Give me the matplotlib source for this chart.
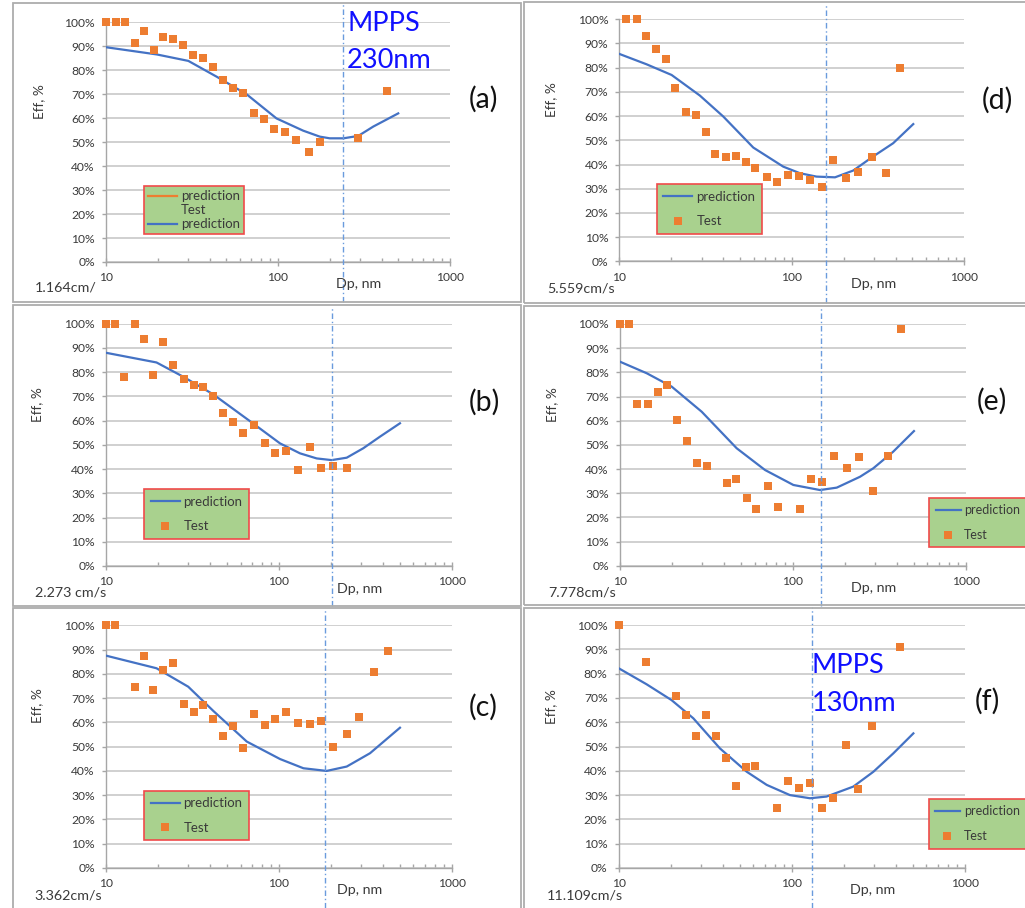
import matplotlib
matplotlib.use('Agg')
import matplotlib.pyplot as plt
from matplotlib.lines import Line2D
from matplotlib.patches import Rectangle
from matplotlib.ticker import FixedLocator, FuncFormatter, LogLocator, NullFormatter
from matplotlib.transforms import blended_transform_factory

plt.rcParams['font.family'] = ['Lato', 'DejaVu Sans']

W, H = 1025, 908

# ---------------- data ----------------
a_test_dp = [10, 11.4, 12.9, 14.7, 16.7, 19.1, 21.4, 24.6, 28.0, 32.2, 36.8, 42.1, 47.9, 55.0, 62.8,
             72.2, 82.9, 95.2, 109.9, 127.9, 151.4, 175.4, 293, 428.5]
a_test_eff = [100, 100, 100, 91.5, 96.4, 88.5, 94.0, 92.9, 90.5, 86.5, 85.1, 81.5, 76.1, 72.7, 70.7,
              62.3, 59.5, 55.4, 54.4, 51.0, 46.0, 50.2, 51.7, 71.5]
a_pred_dp = [10, 19.7, 30.1, 44, 65.6, 98, 140, 175, 200, 240, 293, 358, 500]
a_pred_eff = [89.6, 86.6, 83.9, 77.3, 70.0, 59.9, 54.8, 52.3, 51.6, 51.6, 52.6, 56.5, 62.0]

b_test_dp = [10, 11.3, 12.7, 14.7, 16.6, 18.8, 21.4, 24.5, 28.3, 32.2, 36.4, 41.8, 47.6, 54.6, 62.1,
             72.2, 82.8, 95.5, 109.6, 128.6, 151.4, 174.6, 205.8, 246.6]
b_test_eff = [100, 100, 78.0, 100, 93.5, 78.8, 92.4, 82.8, 77.3, 74.8, 74.0, 70.3, 63.3, 59.6, 55.0,
              58.2, 50.9, 46.8, 47.3, 39.8, 49.2, 40.6, 41.4, 40.3]
b_pred_dp = [10, 19.6, 28.0, 41.8, 68, 101.6, 132.5, 165.5, 202, 247, 308, 385, 502]
b_pred_eff = [88.0, 84.0, 78.1, 70.8, 59.8, 50.6, 46.5, 44.4, 43.7, 44.7, 48.6, 53.4, 58.9]

c_test_dp = [10, 11.3, 14.7, 16.6, 18.8, 21.4, 24.5, 28.3, 32.1, 36.4, 41.8, 47.6, 54.6, 62.1, 72.2,
             82.8, 95.5, 109.6, 128.6, 151.4, 174.6, 205.8, 246.6, 292.2, 355.6, 426.9]
c_test_eff = [100, 100, 74.5, 87.2, 73.2, 81.6, 84.3, 67.4, 64.4, 67.2, 61.3, 54.4, 58.7, 49.5, 63.3,
              58.9, 61.3, 64.4, 59.6, 59.2, 60.6, 49.7, 55.2, 62.1, 80.6, 89.3]
c_pred_dp = [10, 19.6, 29.9, 41.8, 65.2, 101.6, 138.7, 189, 247, 337, 502]
c_pred_eff = [87.5, 82.3, 74.7, 64.7, 52.1, 44.9, 41.1, 40.0, 41.8, 47.3, 57.8]

d_test_dp = [11.0, 12.6, 14.3, 16.4, 18.6, 21.1, 24.3, 27.7, 31.8, 36.1, 41.5, 47.2, 54.2, 61.4, 71.4,
             82.0, 94.6, 109.6, 127.5, 148.9, 174, 205, 243, 291.6, 350, 423.6]
d_test_eff = [100, 100, 93.2, 87.7, 83.5, 71.5, 61.6, 60.5, 53.3, 44.4, 43.3, 43.7, 41.0, 38.6, 35.0,
              32.8, 35.7, 35.4, 33.6, 30.7, 41.9, 34.4, 36.9, 43.1, 36.5, 80.0]
d_pred_dp = [10, 14.4, 20.1, 29.3, 40.1, 59.8, 89.3, 111.5, 139, 178, 227, 296, 387, 506]
d_pred_eff = [85.7, 81.4, 77.0, 68.5, 59.8, 47.0, 39.1, 36.4, 35.0, 34.7, 37.5, 43.3, 48.8, 56.7]

e_test_dp = [10, 11.2, 12.6, 14.5, 16.6, 18.8, 21.3, 24.5, 27.8, 32.0, 41.6, 47.1, 54.3, 61.5, 71.5,
             82.4, 109.6, 127.4, 148.2, 173, 204.8, 242.5, 292.4, 354, 424.9]
e_test_eff = [100, 100, 66.9, 66.9, 71.7, 74.8, 60.3, 51.7, 42.6, 41.4, 34.3, 36.0, 28.1, 23.6, 33.1,
              24.4, 23.3, 36.0, 34.8, 45.5, 40.6, 45.1, 31.0, 45.5, 97.9]
e_pred_dp = [10, 14.3, 19.9, 29.7, 47.3, 69.0, 100.7, 143.6, 179.5, 244.7, 292, 381, 502]
e_pred_eff = [84.4, 79.6, 74.1, 63.7, 48.6, 39.6, 33.4, 31.3, 32.3, 36.8, 40.3, 47.2, 55.7]

f_test_dp = [10, 14.4, 21.3, 24.5, 27.9, 32.0, 36.4, 41.7, 47.4, 54.4, 61.7, 82.6, 95.2, 109.7, 127.6,
             149, 172.5, 205, 242.8, 291, 422.6]
f_test_eff = [100, 84.9, 70.9, 63.0, 54.3, 63.0, 54.3, 45.1, 33.7, 41.6, 41.8, 24.8, 35.8, 33.1, 34.8,
              24.8, 28.7, 50.6, 32.5, 58.4, 91.1]
f_pred_dp = [10, 14.5, 20.2, 27.0, 38.5, 55.0, 71.7, 97.7, 127.6, 159, 227, 296.5, 387, 505]
f_pred_eff = [82.2, 75.6, 69.1, 61.6, 49.2, 39.6, 34.2, 30.0, 28.7, 29.4, 33.5, 39.6, 47.2, 55.4]

mpps_dp = {'a': 240, 'b': 203, 'c': 185, 'd': 157, 'e': 145, 'f': 131.5}
velocity_labels = {'a': '1.164cm/', 'b': '2.273 cm/s', 'c': '3.362cm/s',
                   'd': '5.559cm/s', 'e': '7.778cm/s', 'f': '11.109cm/s'}
panel_letters = ['a', 'b', 'c', 'd', 'e', 'f']
y_ticks = [0, 10, 20, 30, 40, 50, 60, 70, 80, 90, 100]
x_ticks = [10, 100, 1000]

series = {
    'a': (a_test_dp, a_test_eff, a_pred_dp, a_pred_eff),
    'b': (b_test_dp, b_test_eff, b_pred_dp, b_pred_eff),
    'c': (c_test_dp, c_test_eff, c_pred_dp, c_pred_eff),
    'd': (d_test_dp, d_test_eff, d_pred_dp, d_pred_eff),
    'e': (e_test_dp, e_test_eff, e_pred_dp, e_pred_eff),
    'f': (f_test_dp, f_test_eff, f_pred_dp, f_pred_eff),
}

# ---------------- layout (pixels) ----------------
axes_px = {
    'a': (106, 22.3, 450, 262),
    'b': (106, 323.7, 451.7, 566),
    'c': (106, 625.3, 451.7, 868),
    'd': (619.3, 19.3, 964.3, 261.3),
    'e': (620, 324, 965.7, 565.7),
    'f': (618.7, 625, 964.7, 868),
}
frames_px = {
    'a': (12.5, 3.5, 521, 302), 'b': (12.5, 305, 521, 606), 'c': (12.5, 607.5, 521, 912),
    'd': (523.5, 1.5, 1030, 303), 'e': (524, 306, 1030, 605), 'f': (524, 608, 1030, 912),
}
vline_px = {'a': (4, 302), 'b': (308, 606), 'c': (609, 908),
            'd': (3, 303), 'e': (307, 606), 'f': (607, 908)}
ylabel_px = {'a': (39, 102), 'b': (37.3, 405), 'c': (37.3, 706),
             'd': (550.7, 100), 'e': (551.7, 405), 'f': (550.7, 706.7)}
vel_px = {'a': (66, 287), 'b': (71, 592.3), 'c': (68.3, 895),
          'd': (581, 288.3), 'e': (582.5, 592.3), 'f': (585, 895)}
dp_px = {'a': (359, 284), 'b': (360, 589), 'c': (360, 890.3),
         'd': (873.3, 284), 'e': (874, 588.3), 'f': (873, 890.3)}
letter_px = {'a': (483, 99.5), 'b': (484, 402.5), 'c': (483, 707.5),
             'd': (997, 100), 'e': (991.5, 401), 'f': (987, 701)}
legend_px = {'a': (144, 186), 'b': (144, 489), 'c': (144, 790.7),
             'd': (656.7, 184), 'e': (929.3, 497.7), 'f': (928.7, 799)}

ORANGE = '#ED7D31'
BLUE = '#4472C4'
GRID = '#C4C4C4'
AXIS = '#A6A6A6'
TXT = '#3A3A3A'


def fx(px):
    return px / W


def fy(py):
    return 1 - py / H


fig = plt.figure(figsize=(W / 100, H / 100), dpi=100)
fig.patch.set_facecolor('white')

for p in panel_letters:
    l, t, r, b = frames_px[p]
    fig.patches.append(Rectangle((fx(l), fy(b)), fx(r) - fx(l), fy(t) - fy(b),
                                 transform=fig.transFigure, fill=False,
                                 edgecolor='#ADADAD', linewidth=1.3, zorder=0))

for p in panel_letters:
    l, t, r, b = axes_px[p]
    ax = fig.add_axes([fx(l), fy(b), fx(r) - fx(l), fy(t) - fy(b)])
    test_dp, test_eff, pred_dp, pred_eff = series[p]

    ax.set_xscale('log')
    ax.set_xlim(10, 1000)
    ax.set_ylim(0, 100)
    ax.yaxis.set_major_locator(FixedLocator(y_ticks))
    ax.yaxis.set_major_formatter(FuncFormatter(lambda v, pos: f'{v:.0f}%'))
    ax.xaxis.set_major_locator(FixedLocator(x_ticks))
    ax.xaxis.set_major_formatter(FuncFormatter(lambda v, pos: f'{v:.0f}'))
    ax.xaxis.set_minor_locator(LogLocator(base=10, subs=[2, 3, 4, 5, 6, 7, 8, 9]))
    ax.xaxis.set_minor_formatter(NullFormatter())

    ax.grid(axis='y', color=GRID, linewidth=1.1)
    ax.set_axisbelow(True)
    for s in ['top', 'right']:
        ax.spines[s].set_visible(False)
    for s in ['left', 'bottom']:
        ax.spines[s].set_color(AXIS)
        ax.spines[s].set_linewidth(1.0)
    ax.tick_params(axis='y', which='major', direction='out', length=3, width=1.0,
                   color=AXIS, labelsize=8.7, labelcolor=TXT, pad=5)
    ax.tick_params(axis='x', which='major', direction='inout', length=6, width=1.0,
                   color=AXIS, labelsize=8.7, labelcolor=TXT, pad=4.5)
    ax.tick_params(axis='x', which='minor', direction='in', length=3, width=1.0, color=AXIS)

    pred_line, = ax.plot(pred_dp, pred_eff, color=BLUE, linewidth=1.6, zorder=3,
                         label='prediction')
    test_pts, = ax.plot(test_dp, test_eff, linestyle='none', marker='s', markersize=6.2,
                        color=ORANGE, markeredgewidth=0, zorder=4, clip_on=False,
                        label='Test')

    tr = blended_transform_factory(ax.transData, fig.transFigure)
    y0, y1 = vline_px[p]
    ax.add_line(Line2D([mpps_dp[p], mpps_dp[p]], [fy(y1), fy(y0)], transform=tr,
                       color='#6A9BDD', linewidth=1.0, linestyle=(0, (4, 2, 1, 2)),
                       clip_on=False, zorder=5))

    lx, ly = legend_px[p]
    fs = 9.5
    hl = 2.2
    if p == 'a':
        handles = [Line2D([], [], color=ORANGE, linewidth=1.6),
                   Line2D([], [], linestyle='none'),
                   Line2D([], [], color=BLUE, linewidth=1.6)]
        labels = ['prediction', 'Test', 'prediction']
        spacing = 0.15
        bpad = 0.32
    else:
        handles = [pred_line, test_pts]
        labels = ['prediction', 'Test']
        spacing = 0.95
        bpad = 0.5
        if p in ('e', 'f'):
            fs = 9.0
            hl = 2.0
            spacing = 1.05
    leg = ax.legend(handles, labels, loc='upper left', bbox_to_anchor=(fx(lx), fy(ly)),
                    bbox_transform=fig.transFigure, borderaxespad=0, fontsize=fs,
                    handlelength=hl, handletextpad=0.3, borderpad=bpad,
                    labelspacing=spacing, numpoints=1, fancybox=False, framealpha=1,
                    facecolor='#A9D18E', edgecolor='#F04A4A')
    leg.get_frame().set_linewidth(1.2)
    for tx in leg.get_texts():
        tx.set_color(TXT)
    leg.set_zorder(10)

    x, y = ylabel_px[p]
    fig.text(fx(x), fy(y), 'Eff, %', rotation=90, ha='center', va='center',
             fontsize=9.8, color=TXT)
    x, y = vel_px[p]
    fig.text(fx(x), fy(y), velocity_labels[p], ha='center', va='center',
             fontsize=10.3, color=TXT)
    x, y = dp_px[p]
    fig.text(fx(x), fy(y), 'Dp, nm', ha='center', va='center', fontsize=10.3, color=TXT)
    x, y = letter_px[p]
    fig.text(fx(x), fy(y), f'({p})', ha='center', va='center', fontsize=20.5, color='#111111')

fig.text(fx(347), fy(30.7), 'MPPS', ha='left', va='baseline', fontsize=19.5, color='#1010FF')
fig.text(fx(347), fy(68), '230nm', ha='left', va='baseline', fontsize=19.5, color='#1010FF')
fig.text(fx(812), fy(673), 'MPPS', ha='left', va='baseline', fontsize=19.5, color='#1010FF')
fig.text(fx(812), fy(711), '130nm', ha='left', va='baseline', fontsize=19.5, color='#1010FF')

fig.savefig('out.png', dpi=100, facecolor='white')
